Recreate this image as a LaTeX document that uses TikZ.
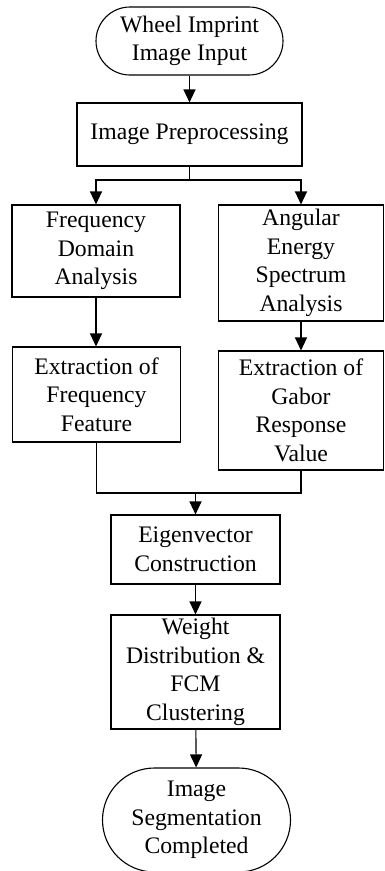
\documentclass[tikz,border=0pt]{standalone}
\usepackage{fontspec}
\setmainfont{Liberation Serif}
\usetikzlibrary{arrows.meta}
\begin{document}
\begin{tikzpicture}[x=1pt,y=-1pt,
  every node/.style={font=\fontsize{23.7pt}{28.6pt}\selectfont, align=center, inner sep=0pt, line width=1.1pt},
  procbox/.style={draw, rectangle},
  termbox/.style={draw, rectangle},
  conn/.style={line width=1.1pt},
  arr/.style={conn, -{Triangle[length=13pt,width=12pt]}}]
\useasboundingbox (0,0) rectangle (385,871);
\node[termbox, rounded corners=34pt, minimum width=187pt, minimum height=68pt] (start) at (189.5,41) {Wheel Imprint\\Image Input};
\node[procbox, minimum width=225pt, minimum height=63pt] (pre) at (189.5,134.5) {Image Preprocessing};
\node[procbox, minimum width=168pt, minimum height=92pt] (fda) at (96,251) {Frequency\\Domain\\Analysis};
\node[procbox, minimum width=165pt, minimum height=116pt] (aes) at (301,263) {Angular\\Energy\\Spectrum\\Analysis};
\node[procbox, minimum width=168pt, minimum height=95pt] (eff) at (96.5,394.5) {Extraction of\\Frequency\\Feature};
\node[procbox, minimum width=165pt, minimum height=119pt] (egr) at (301,410.5) {Extraction of\\Gabor\\Response\\Value};
\node[procbox, minimum width=169pt, minimum height=69pt] (eig) at (195.5,549.5) {Eigenvector\\Construction};
\node[procbox, minimum width=169pt, minimum height=114pt] (wdf) at (195.5,672) {Weight\\Distribution \&\\FCM\\Clustering};
\node[termbox, rounded corners=52pt, minimum width=188pt, minimum height=104pt] (stop) at (196.5,820) {Image\\Segmentation\\Completed};
\coordinate (split) at (189.5,180);
\coordinate (merge) at (195.5,493);
\draw[arr] (start) -- (pre);
\draw[conn] (pre.south) -- (split);
\draw[arr] (split) -| (fda.north);
\draw[arr] (split) -| (aes.north);
\draw[arr] (fda.south) -- (fda.south |- eff.north);
\draw[arr] (aes.south) -- (aes.south |- egr.north);
\draw[conn] (eff.south) |- (merge);
\draw[conn] (egr.south) |- (merge);
\draw[arr] (merge) -- (eig.north);
\draw[arr] (eig) -- (wdf);
\draw[arr] (wdf) -- (stop);
\end{tikzpicture}
\end{document}
